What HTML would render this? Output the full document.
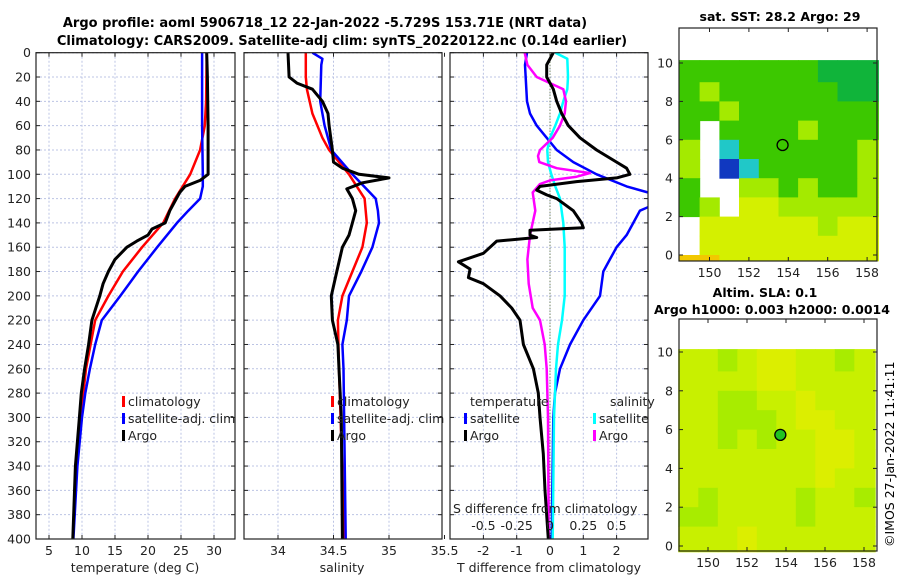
<!DOCTYPE html>
<html><head><meta charset="utf-8">
<style>
html,body{margin:0;padding:0;background:#fff;}
svg{display:block;font-family:"DejaVu Sans","Liberation Sans",sans-serif;}
</style></head>
<body>
<svg id="fig" width="900" height="580" viewBox="0 0 900 580">
<text x="325" y="27" font-size="13" font-weight="bold" text-anchor="middle">Argo profile: aoml 5906718_12 22-Jan-2022 -5.729S 153.71E (NRT data)</text>
<text x="342" y="45" font-size="13" font-weight="bold" text-anchor="middle">Climatology: CARS2009. Satellite-adj clim: synTS_20220122.nc (0.14d earlier)</text>
<text x="780" y="21" font-size="12.5" font-weight="bold" text-anchor="middle">sat. SST: 28.2 Argo: 29</text>
<text x="765" y="297" font-size="12.5" font-weight="bold" text-anchor="middle">Altim. SLA: 0.1</text>
<text x="654" y="314" font-size="12.5" font-weight="bold">Argo h1000: 0.003 h2000: 0.0014</text>
<text transform="translate(894,547) rotate(-90)" font-size="12.5">©IMOS 27-Jan-2022 11:41:11</text>
</svg>
<script>
// ---------- data ----------
const depthTicks=[0,20,40,60,80,100,120,140,160,180,200,220,240,260,280,300,320,340,360,380,400];
const tempTicks=[5,10,15,20,25,30];
const salTicks=[34,34.5,35,35.5];
const salTickLabels=["34","34.5","35","35.5"];
const tdiffTicks=[-2,-1,0,1,2];
const sdiffTicks=[-0.5,-0.25,0,0.25,0.5];
const sdiffTickLabels=["-0.5","-0.25","0","0.25","0.5"];

const argoTDepth=[0,20,60,100,105,110,115,130,140,145,150,155,160,170,180,190,200,220,240,260,280,300,340,400];
const argoTVal=[28.9,29.0,29.1,29.1,27.9,25.6,24.8,23.3,22.6,20.6,20.0,18.3,16.8,15.0,14.0,13.2,12.7,11.5,11.0,10.4,9.9,9.6,9.0,8.6];
const climTDepth=[0,40,60,80,100,120,140,160,180,200,220,240,260,300,340,400];
const climTVal=[28.9,28.8,28.6,27.9,26.4,24.1,22.3,19.1,16.2,14.0,12.0,11.3,10.6,9.8,9.2,8.6];
const satTDepth=[0,60,100,110,120,130,140,160,180,200,220,240,260,280,300,340,400];
const satTVal=[28.2,28.2,28.3,28.3,27.9,26.1,24.4,21.4,18.5,15.8,13.0,12.0,11.2,10.5,10.0,9.3,8.7];

const argoSDepth=[0,20,25,30,40,50,60,80,90,95,100,103,107,112,120,130,140,150,160,180,200,220,240,260,300,400];
const argoSVal=[34.09,34.10,34.17,34.31,34.40,34.45,34.46,34.49,34.50,34.58,34.73,35.00,34.76,34.62,34.67,34.70,34.67,34.64,34.58,34.53,34.48,34.49,34.54,34.55,34.57,34.58];
const climSDepth=[0,20,30,50,70,80,100,120,140,160,180,200,220,260,400];
const climSVal=[34.25,34.25,34.26,34.31,34.40,34.46,34.64,34.78,34.80,34.76,34.67,34.58,34.54,34.55,34.60];
const satSDepth=[0,5,10,40,60,80,100,120,130,140,160,180,200,220,240,260,400];
const satSVal=[34.31,34.40,34.39,34.38,34.42,34.48,34.67,34.88,34.90,34.91,34.85,34.75,34.64,34.62,34.58,34.59,34.61];

const satDTDepth=[0,10,40,50,60,70,80,90,100,110,115,121,127,130,140,150,160,170,180,200,220,240,260,280,300,400];
const satDTVal=[-0.69,-0.75,-0.69,-0.6,-0.4,-0.1,0.2,0.7,1.4,2.3,2.95,3.6,2.95,2.7,2.5,2.3,2.0,1.8,1.6,1.5,1.0,0.6,0.3,0.15,0.1,0.05];
const argoDTDepth=[0,5,10,20,30,40,50,60,70,80,90,95,100,103,106,110,113,117,120,130,140,144,146,150,152,155,160,165,172,178,185,190,200,210,220,240,260,280,300,330,360,400];
const argoDTVal=[0.1,0,-0.1,-0.1,0.1,0.2,0.35,0.55,0.9,1.4,2.0,2.3,2.4,2.0,0.8,-0.3,-0.4,-0.1,0.2,0.7,0.95,1.0,-0.6,-0.6,-0.4,-1.6,-1.8,-2.0,-2.75,-2.4,-2.45,-2.0,-1.5,-1.15,-0.9,-0.8,-0.5,-0.35,-0.3,-0.2,-0.15,-0.05];
const satDSDepth=[0,5,20,30,40,50,60,70,80,90,100,110,120,140,160,180,200,220,240,260,300,400];
const satDSVal=[0.04,0.13,0.135,0.13,0.1,0.075,0.04,0,-0.02,-0.015,0.01,0.04,0.075,0.1,0.11,0.11,0.11,0.09,0.06,0.045,0.03,0.02];
const argoDSDepth=[0,10,20,25,30,40,50,60,70,80,85,90,95,99,102,105,108,115,130,150,170,190,210,220,240,260,300,400];
const argoDSVal=[-0.19,-0.17,-0.1,0,0.1,0.12,0.11,0.075,0.02,-0.075,-0.09,-0.08,0.05,0.3,0.2,0,-0.075,-0.13,-0.11,-0.15,-0.17,-0.16,-0.13,-0.075,-0.04,-0.025,-0.015,-0.01];

const mapLatTicks=[0,2,4,6,8,10];
const mapLonTicks=[150,152,154,156,158];
const mapLatEdges=[10.15,9,8,7,6,5,4,3,2,1,0,-0.3];
const mapLonEdges=[148.47,149.5,150.5,151.5,152.5,153.5,154.5,155.5,156.5,157.5,158.57];
const sstGrid=[
[3,3,3,3,3,3,3,4,4,4],
[3,2,3,3,3,3,3,3,4,4],
[3,3,2,3,3,3,3,3,3,3],
[3,-1,3,3,3,3,2,3,3,3],
[2,-1,5,3,3,3,3,3,3,2],
[2,-1,6,5,3,3,3,3,3,2],
[3,-1,-1,2,2,3,2,3,3,2],
[3,2,-1,1,1,2,2,2,2,2],
[-1,1,1,1,1,1,1,2,1,1],
[-1,1,1,1,1,1,1,1,1,1],
[0,0,1,1,1,1,1,1,1,1]];
const slaGrid=[
[1,1,2,1,0,0,1,1,2,1],
[1,1,1,1,0,0,1,1,1,1],
[1,1,2,2,1,1,0,1,1,1],
[1,1,2,2,2,1,0,0,1,1],
[1,1,2,1,2,1,1,0,0,1],
[1,1,1,1,1,1,1,0,0,1],
[1,1,1,1,1,1,1,0,1,1],
[1,2,1,1,1,1,2,1,1,2],
[2,2,1,1,1,1,2,1,1,1],
[1,1,1,0,1,1,1,1,1,1],
[1,1,1,0,1,1,1,1,1,1]];
const floatLon=153.71, floatLat=5.729;

// ---------- helpers ----------
const NS="http://www.w3.org/2000/svg";
const svg=document.getElementById('fig');
function el(tag,attrs,parent){const e=document.createElementNS(NS,tag);for(const k in attrs)e.setAttribute(k,attrs[k]);(parent||svg).appendChild(e);return e;}
const PT=52.7, PB=539, yD=d=>PT+d*(PB-PT)/400;
const panels=[
 {x0:36,x1:235,name:'temperature-panel'},
 {x0:244,x1:442,name:'salinity-panel'},
 {x0:450,x1:648,name:'difference-panel'}];
const xT=t=>49+(t-5)*6.6;
const xS=s=>278+(s-34)*111;
const xDT=v=>550+v*33.3;
const xDS=v=>550+v*133.2;
const GRID='#bcc4e4';

panels.forEach((p,i)=>{
  const g=el('g',{});
  
  
  p.g=g;
  const cp=el('clipPath',{id:'clip'+i},svg);
  el('rect',{x:p.x0,y:PT,width:p.x1-p.x0,height:PB-PT},cp);
  depthTicks.forEach(d=>{
    const l=el('line',{x1:p.x0,x2:p.x1,y1:yD(d),y2:yD(d),stroke:GRID,'stroke-width':1,'stroke-dasharray':'2,2'},g);
    
    
    el('line',{x1:p.x0,x2:p.x0+4,y1:yD(d),y2:yD(d),stroke:'#222'},g);
    el('line',{x1:p.x1-4,x2:p.x1,y1:yD(d),y2:yD(d),stroke:'#222'},g);
  });
});
// y tick labels
depthTicks.forEach(d=>{
  const t=el('text',{x:31,y:yD(d)+4.5,'font-size':12.5,'text-anchor':'end',fill:'#222'});
  t.textContent=d;
  
  
});
function xticks(p,vals,fx,labels,ly){
  vals.forEach((v,i)=>{
    const x=fx(v);
    if(x>p.x0+1&&x<p.x1-1){
      const l=el('line',{x1:x,x2:x,y1:PT,y2:PB,stroke:GRID,'stroke-dasharray':'2,2'},p.g);
      
      
    }
    el('line',{x1:x,x2:x,y1:PB,y2:PB-4,stroke:'#222'},p.g);
    el('line',{x1:x,x2:x,y1:PT,y2:PT+4,stroke:'#222'},p.g);
    const t=el('text',{x:x,y:ly,'font-size':12.5,'text-anchor':'middle',fill:'#222'});
    t.textContent=labels?labels[i]:v;
    
    
  });
}
xticks(panels[0],tempTicks,xT,null,555);
xticks(panels[1],salTicks,xS,salTickLabels,555);
xticks(panels[2],tdiffTicks,xDT,null,555);
// zero line in diff panel
{const z=el('line',{x1:xDT(0),x2:xDT(0),y1:PT,y2:PB,stroke:'#556b2f','stroke-dasharray':'1,2'},panels[2].g);
}
// S diff secondary tick labels
sdiffTicks.forEach((v,i)=>{
  const t=el('text',{x:xDS(v),y:530,'font-size':12.5,'text-anchor':'middle',fill:'#222'});
  t.textContent=sdiffTickLabels[i];
  
  
});
[['temperature (deg C)',135,'temperature-axis-title'],['salinity',342,'salinity-axis-title'],['T difference from climatology',549,'t-diff-axis-title']].forEach(a=>{
  const t=el('text',{x:a[1],y:572,'font-size':12.5,'text-anchor':'middle',fill:'#222'});
  t.textContent=a[0];
});
{const t=el('text',{x:453,y:513,'font-size':12.5,fill:'#222'});t.textContent='S difference from climatology';
}

function series(p,idx,depths,vals,fx,color,w,name){
  const pts=depths.map((d,i)=>fx(vals[i]).toFixed(1)+','+yD(d).toFixed(1)).join(' ');
  const l=el('polyline',{points:pts,fill:'none',stroke:color,'stroke-width':w,'stroke-linejoin':'round','clip-path':'url(#clip'+idx+')'},p.g);
  
  
}
series(panels[0],0,climTDepth,climTVal,xT,'#ff0000',2.5,'climatology-temperature-line');
series(panels[0],0,satTDepth,satTVal,xT,'#0000ff',2.5,'satellite-temperature-line');
series(panels[0],0,argoTDepth,argoTVal,xT,'#000',3,'argo-temperature-line');
series(panels[1],1,climSDepth,climSVal,xS,'#ff0000',2.5,'climatology-salinity-line');
series(panels[1],1,satSDepth,satSVal,xS,'#0000ff',2.5,'satellite-salinity-line');
series(panels[1],1,argoSDepth,argoSVal,xS,'#000',3,'argo-salinity-line');
series(panels[2],2,satDTDepth,satDTVal,xDT,'#0000ff',2.5,'satellite-t-diff-line');
series(panels[2],2,satDSDepth,satDSVal,xDS,'#00ffff',2.5,'satellite-s-diff-line');
series(panels[2],2,argoDSDepth,argoDSVal,xDS,'#ff00ff',2.5,'argo-s-diff-line');
series(panels[2],2,argoDTDepth,argoDTVal,xDT,'#000',3,'argo-t-diff-line');

panels.forEach(p=>{
  const r=el('rect',{x:p.x0,y:PT,width:p.x1-p.x0,height:PB-PT,fill:'none',stroke:'#222','stroke-width':1.2},p.g);
  
});

// legends
function legend(x,y,color,label,name){
  const g=el('g',{});
  
  
  if(color) el('rect',{x:x,y:y-10,width:3,height:11,fill:color},g);
  const t=el('text',{x:x+(color?6:0),y:y,'font-size':12.5,fill:'#222'},g);
  t.textContent=label;
}
legend(122,406,'#ff0000','climatology','legend-climatology-temp');
legend(122,423,'#0000ff','satellite-adj. clim','legend-satellite-temp');
legend(122,440,'#000','Argo','legend-argo-temp');
legend(331,406,'#ff0000','climatology','legend-climatology-sal');
legend(331,423,'#0000ff','satellite-adj. clim','legend-satellite-sal');
legend(331,440,'#000','Argo','legend-argo-sal');
legend(470,406,null,'temperature','legend-temperature-heading');
legend(464,423,'#0000ff','satellite','legend-satellite-tdiff');
legend(464,440,'#000','Argo','legend-argo-tdiff');
legend(610,406,null,'salinity','legend-salinity-heading');
legend(593,423,'#00ffff','satellite','legend-satellite-sdiff');
legend(593,440,'#ff00ff','Argo','legend-argo-sdiff');

// maps
const sstColors={'0':'#f2c800','1':'#d4f000','2':'#a4ea00','3':'#3cc800','4':'#10b43a','5':'#20c8c8','6':'#1038c0'};
const slaColors={'0':'#dcee00','1':'#c8f000','2':'#a8ec00'};
function drawMap(m,grid,colors,name,circleFill){
  const g=el('g',{});
  
  
  const lx=v=>m.lx0+(v-150)*m.lonS;
  const ly=v=>m.ly0-v*m.latS;
  grid.forEach((row,r)=>row.forEach((c,k)=>{
    if(c<0)return;
    const x0=lx(mapLonEdges[k]),x1=lx(mapLonEdges[k+1]);
    const y0=ly(mapLatEdges[r]),y1=ly(mapLatEdges[r+1]);
    const cell=el('rect',{x:x0.toFixed(1),y:y0.toFixed(1),width:(x1-x0+0.5).toFixed(1),height:(y1-y0+0.5).toFixed(1),fill:colors[c]},g);
    
    
  }));
  const c=el('circle',{cx:lx(floatLon),cy:ly(floatLat),r:5.5,fill:circleFill,stroke:'#000','stroke-width':1.3},g);
  
  
  el('rect',{x:m.x0,y:m.y0,width:m.x1-m.x0,height:m.y1-m.y0,fill:'none',stroke:'#222','stroke-width':1.2},g);
  mapLatTicks.forEach(v=>{
    const y=ly(v);
    el('line',{x1:m.x0,x2:m.x0+4,y1:y,y2:y,stroke:'#222'},g);
    el('line',{x1:m.x1-4,x2:m.x1,y1:y,y2:y,stroke:'#222'},g);
    const t=el('text',{x:m.x0-6,y:y+4.5,'font-size':12.5,'text-anchor':'end',fill:'#222'},g);
    t.textContent=v;
  });
  mapLonTicks.forEach(v=>{
    const x=lx(v);
    el('line',{x1:x,x2:x,y1:m.y1,y2:m.y1-4,stroke:'#222'},g);
    el('line',{x1:x,x2:x,y1:m.y0,y2:m.y0+4,stroke:'#222'},g);
    const t=el('text',{x:x,y:m.y1+16,'font-size':12.5,'text-anchor':'middle',fill:'#222'},g);
    t.textContent=v;
  });
}
drawMap({x0:679,x1:877,y0:28,y1:261,lx0:709.5,lonS:19.7,ly0:255,latS:19.2},sstGrid,sstColors,'sst-map',"none");
drawMap({x0:679,x1:877,y0:319,y1:551,lx0:708,lonS:19.5,ly0:546,latS:19.4},slaGrid,slaColors,'sla-map','#22c322');
</script>
</body></html>
